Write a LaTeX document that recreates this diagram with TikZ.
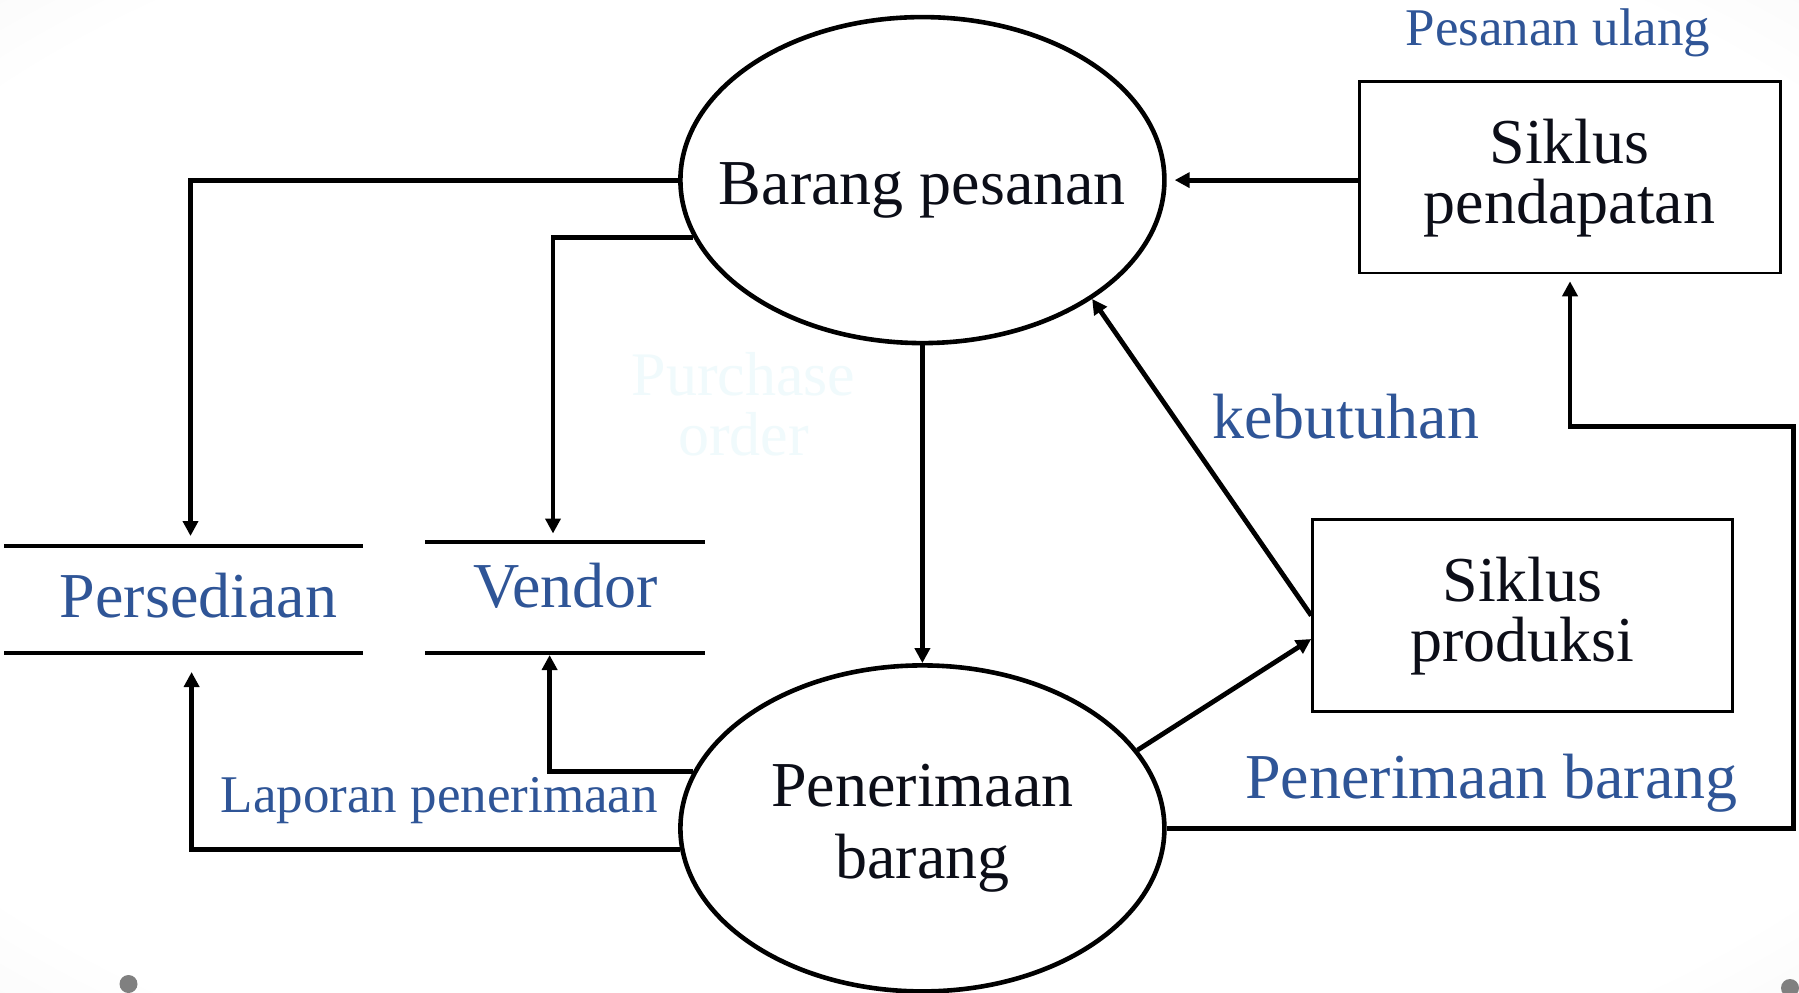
\documentclass[tikz,border=0pt]{standalone}
\usepackage{fontspec}
\setmainfont{Liberation Serif}
\usetikzlibrary{shapes.geometric,arrows.meta,calc}
\definecolor{lblue}{RGB}{47,85,151}
\definecolor{ink}{RGB}{12,14,24}
\definecolor{ghost}{RGB}{240,250,252}
\definecolor{dotgray}{RGB}{128,128,128}
\newcommand\twoline[1]{\begin{tabular}[t]{@{}c@{}}#1\end{tabular}}
\pgfdeclareradialshading{bgshade}{\pgfpoint{0bp}{0bp}}{color(0bp)=(white); color(32bp)=(white); color(72bp)=(black!17)}
\begin{document}
\begin{tikzpicture}[x=1pt,y=-1pt,
  proc/.style={ellipse,draw=black,line width=4.6pt,fill=white,minimum width=484pt,minimum height=326pt,inner sep=0pt},
  ext/.style={rectangle,draw=black,line width=2.7pt,fill=white,inner sep=0pt},
  store/.style={rectangle,inner sep=0pt},
  storeline/.style={line width=4pt},
  arr/.style={line width=4.8pt,-{Triangle[length=15pt,width=15pt]}},
  big/.style={font=\fontsize{64}{72}\selectfont,text=ink,anchor=base,inner sep=0pt},
  bl/.style={font=\fontsize{64}{72}\selectfont,text=lblue,anchor=base,inner sep=0pt},
  sm/.style={font=\fontsize{53}{60}\selectfont,text=lblue,anchor=base,inner sep=0pt}]
\useasboundingbox (0,0) rectangle (1799,993);
\shade[shading=bgshade] (0,0) rectangle (1799,993);

% ghost text
\node[big,text=ghost,font=\fontsize{62}{55}\selectfont] (po) at (743.5,395.8) {\twoline{Purchase\\order}};

% processes
\node[proc] (bp) at (922.4,180.1) {};
\node[big] (bpt) at (922.4,204.2) {Barang pesanan};
\node[proc] (pr) at (922.4,828.4) {};
\node[big] (prt) at (922.4,806.6) {\twoline{Penerimaan\\barang}};

% external entities
\node[ext,minimum width=421.1pt,minimum height=191.5pt] (past) at (1570,177.2) {};
\node[big,font=\fontsize{64}{55}\selectfont] (pastt) at (1569.5,163) {\twoline{Siklus\\pendapatan}};
\node[ext,minimum width=419.9pt,minimum height=191.6pt] (prod) at (1522.5,615.5) {};
\node[big,font=\fontsize{64}{55}\selectfont] (prodt) at (1522.5,601) {\twoline{Siklus\\produksi}};

% data stores
\node[store,minimum width=357.9pt,minimum height=106.8pt] (per) at (183.5,599.4) {};
\draw[storeline] (per.north west) -- (per.north east) (per.south west) -- (per.south east);
\node[bl] (pert) at (198.5,617.3) {Persediaan};
\node[store,minimum width=278.8pt,minimum height=110.1pt] (ven) at (565,597.7) {};
\draw[storeline] (ven.north west) -- (ven.north east) (ven.south west) -- (ven.south east);
\node[bl] (vent) at (565.6,607) {Vendor};

% labels
\node[sm] (l1) at (1558,45.9) {Pesanan ulang};
\node[bl] (l2) at (1345.8,438.3) {kebutuhan};
\node[bl] (l3) at (1491.5,798.5) {Penerimaan barang};
\node[sm] (l4) at (439.4,812.3) {Laporan penerimaan};

% connector ends
\coordinate (perin) at (190.5,536);
\coordinate (venin) at (553,533.5);
\coordinate (venout) at (549.6,655);
\coordinate (perout) at (191.6,672);
\coordinate (c7) at (1793.2,426.8);

% connectors
\draw[arr] (bp.west) -| (perin);
\draw[arr] (bp.194) -| (venin);
\draw[arr] (bp.south) -- (pr.north);
\draw[arr] (past.west |- bp.east) -- ([xshift=8pt]bp.east);
\draw[arr] (prod.west) -- (bp.-35);
\draw[arr] (pr.20) -- ([yshift=-23.5pt]prod.west);
\draw[arr] (pr.east) -| (c7) -| ([yshift=-7pt]past.south);
\draw[arr] (pr.166) -| (venout);
\draw[arr] (pr.185) -| (perout);

% decorative dots
\fill[dotgray] (128.5,984) circle (9);
\fill[dotgray] (1790,988) circle (9);
\end{tikzpicture}
\end{document}
